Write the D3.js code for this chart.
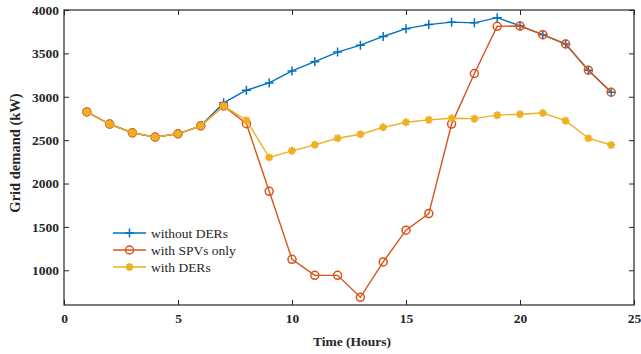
<!DOCTYPE html>
<html>
<head>
<meta charset="utf-8">
<script src="https://cdn.jsdelivr.net/npm/d3@7"></script>
<style>
body{margin:0;background:#fff;}
text{font-family:"Liberation Serif","Times New Roman",serif;}
</style>
</head>
<body>
<div id="chart"></div>
<script>
////////////////////////////////////////
// data
////////////////////////////////////////

var hours = [1,2,3,4,5,6,7,8,9,10,11,12,13,14,15,16,17,18,19,20,21,22,23,24];

var withoutDERs = [2825,2685,2585,2535,2573,2665,2930,3075,3160,3298,3405,3515,3595,3695,3785,3832,3860,3852,3912,3818,3716,3608,3306,3052];
var withSPVs   = [2825,2685,2585,2535,2573,2665,2895,2690,1910,1127,942,942,689,1096,1462,1654,2685,3268,3812,3815,3716,3608,3306,3052];
var withDERs   = [2825,2685,2585,2535,2573,2665,2895,2730,2300,2377,2446,2522,2568,2648,2706,2734,2752,2748,2788,2798,2812,2725,2522,2444];

var seriesNames = ['without DERs','with SPVs only','with DERs'];
var seriesColors = ['#0072BD','#D95319','#EDB120'];
var seriesMarkers = ['plus','circle','star'];

var xTicks = [0,5,10,15,20,25];
var yTicks = [1000,1500,2000,2500,3000,3500,4000];

////////////////////////////////////////
// layout
////////////////////////////////////////

var W = 641, H = 354;
var padL = 64, padR = 634, padT = 10, padB = 305;
var axisColor = '#262626';

var svg = d3.select('#chart').append('svg')
	.attr('width',W)
	.attr('height',H);

var x = d3.scaleLinear().domain([0,25]).range([padL,padR]);
var y = d3.scaleLinear().domain([600,4000]).range([padB,padT]);

////////////////////////////////////////
// axes (box with inward ticks)
////////////////////////////////////////

var tl = 5;

svg.append('g')
	.attr('transform','translate(0,'+padB+')')
	.call(d3.axisBottom(x).tickValues(xTicks).tickSizeInner(-tl).tickSizeOuter(0).tickPadding(8).tickFormat(d3.format('d')))
	.call(function(g){ g.select('.domain').remove(); });

svg.append('g')
	.attr('transform','translate('+padL+',0)')
	.call(d3.axisLeft(y).tickValues(yTicks).tickSizeInner(-tl).tickSizeOuter(0).tickPadding(5).tickFormat(d3.format('d')))
	.call(function(g){ g.select('.domain').remove(); });

svg.append('g')
	.attr('transform','translate(0,'+padT+')')
	.call(d3.axisTop(x).tickValues(xTicks).tickSizeInner(-tl).tickSizeOuter(0).tickFormat(''))
	.call(function(g){ g.select('.domain').remove(); });

svg.append('g')
	.attr('transform','translate('+padR+',0)')
	.call(d3.axisRight(y).tickValues(yTicks).tickSizeInner(-tl).tickSizeOuter(0).tickFormat(''))
	.call(function(g){ g.select('.domain').remove(); });

svg.selectAll('.tick line').attr('stroke',axisColor).attr('stroke-width',1);
svg.selectAll('.tick text')
	.attr('fill',axisColor)
	.attr('font-size',13.5)
	.attr('font-weight','bold')
	.style('font-family','"Liberation Serif",serif');

svg.append('rect')
	.attr('x',padL)
	.attr('y',padT)
	.attr('width',padR-padL)
	.attr('height',padB-padT)
	.attr('fill','none')
	.attr('stroke',axisColor)
	.attr('stroke-width',1.2);

svg.append('text')
	.attr('x',(padL+padR)/2+3)
	.attr('y',346)
	.attr('text-anchor','middle')
	.attr('font-size',13.5)
	.attr('font-weight','bold')
	.attr('fill',axisColor)
	.text('Time (Hours)');

svg.append('text')
	.attr('transform','translate(20,153) rotate(-90)')
	.attr('text-anchor','middle')
	.attr('font-size',14.5)
	.attr('font-weight','bold')
	.attr('fill',axisColor)
	.text('Grid demand (kW)');

////////////////////////////////////////
// markers
////////////////////////////////////////

function drawMarker(g,type,cx,cy,color){
	if(type==='plus'){
		g.append('path')
			.attr('d','M'+(cx-4.5)+','+cy+'H'+(cx+4.5)+'M'+cx+','+(cy-4.5)+'V'+(cy+4.5))
			.attr('stroke',color).attr('stroke-width',1.5).attr('fill','none');
	}
	else if(type==='circle'){
		g.append('circle')
			.attr('cx',cx).attr('cy',cy).attr('r',4)
			.attr('stroke',color).attr('stroke-width',1.5).attr('fill','none');
	}
	else{
		var p = '';
		for(var a=0;a<4;a++){
			var ang = a*Math.PI/4;
			var dx = 4*Math.cos(ang), dy = 4*Math.sin(ang);
			p += 'M'+(cx-dx)+','+(cy-dy)+'L'+(cx+dx)+','+(cy+dy);
		}
		g.append('path').attr('d',p)
			.attr('stroke',color).attr('stroke-width',2).attr('fill','none');
		g.append('circle').attr('cx',cx).attr('cy',cy).attr('r',2).attr('fill',color);
	}
}

////////////////////////////////////////
// series
////////////////////////////////////////

var allSeries = [withoutDERs,withSPVs,withDERs];

var line = d3.line()
	.x(function(d,i){ return x(hours[i]); })
	.y(function(d){ return y(d); });

allSeries.forEach(function(vals,si){
	var g = svg.append('g').attr('class','series_'+si);
	g.append('path')
		.datum(vals)
		.attr('d',line)
		.attr('fill','none')
		.attr('stroke',seriesColors[si])
		.attr('stroke-width',1.4);
	vals.forEach(function(v,i){
		drawMarker(g,seriesMarkers[si],x(hours[i]),y(v),seriesColors[si]);
	});
});

////////////////////////////////////////
// legend
////////////////////////////////////////

var legY = [233,250,267];
seriesNames.forEach(function(name,i){
	var g = svg.append('g').attr('class','legend_'+i);
	g.append('line')
		.attr('x1',113).attr('x2',146)
		.attr('y1',legY[i]).attr('y2',legY[i])
		.attr('stroke',seriesColors[i]).attr('stroke-width',1.6);
	drawMarker(g,seriesMarkers[i],129.5,legY[i],seriesColors[i]);
	g.append('text')
		.attr('x',151)
		.attr('y',legY[i]+4.5)
		.attr('font-size',13.5)
		.attr('fill',axisColor)
		.text(name);
});
</script>
</body>
</html>
